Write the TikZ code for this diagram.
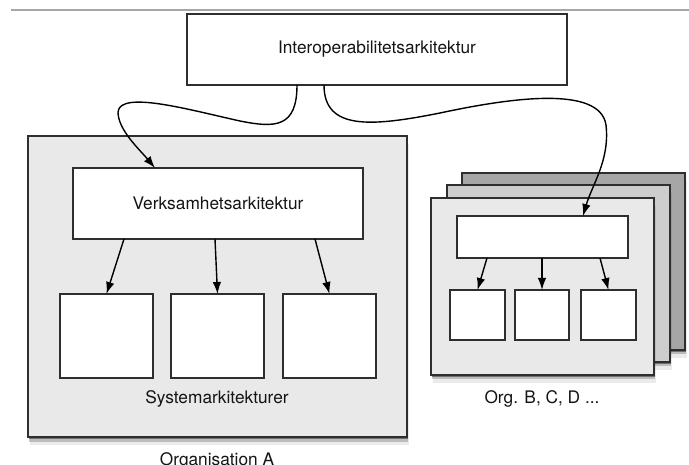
\documentclass[tikz,border=0pt]{standalone}
\usepackage{fontspec}
\setmainfont{TeX Gyre Heros}
\usetikzlibrary{arrows.meta,shadows}
\definecolor{edge}{HTML}{2E2E2E}
\definecolor{pagefront}{HTML}{E9E9E9}
\definecolor{pagemid}{HTML}{CDCDCD}
\definecolor{pageback}{HTML}{A6A6A6}
\definecolor{txt}{HTML}{141414}
\begin{document}
\begin{tikzpicture}[x=1pt,y=-1pt,
  box/.style={draw=edge,line width=1.7pt,fill=white,inner sep=0pt,outer sep=0pt,anchor=north west},
  softshadow/.style={
    drop shadow={shadow xshift=0.5pt,shadow yshift=-2pt,opacity=.4,fill=black},
    drop shadow={shadow xshift=1pt,shadow yshift=-4.5pt,opacity=.2,fill=black},
    drop shadow={shadow xshift=1.5pt,shadow yshift=-8pt,opacity=.08,fill=black}},
  page/.style={box,softshadow},
  lbl/.style={text=txt,font=\fontsize{17.3}{20}\selectfont},
  arr/.style={draw=black,line width=1.4pt,-{Latex[length=12pt,width=8.5pt]}}
]
\useasboundingbox (0,0) rectangle (689,465);
\draw[gray!70,line width=1.2pt] (11,10) -- (689,10);

\node[box,lbl,minimum width=380pt,minimum height=71pt] (inter) at (187,14) {Interoperabilitetsarkitektur};

% Organisation A
\node[page,fill=pagefront,minimum width=379pt,minimum height=301pt] (orgA) at (28,136) {};
\node[box,lbl,minimum width=290pt,minimum height=71pt] (verk) at (73,168) {Verksamhetsarkitektur};
\node[box,minimum width=93pt,minimum height=84pt] (s1) at (60,294) {};
\node[box,minimum width=93pt,minimum height=84pt] (s2) at (171,294) {};
\node[box,minimum width=93pt,minimum height=84pt] (s3) at (283,294) {};
\node[lbl,anchor=base] (syslbl) at (217,403) {Systemarkitekturer};
\node[lbl,anchor=base] (orgAlbl) at (217,465) {Organisation A};

% Org B, C, D stack
\node[page,fill=pageback,minimum width=223pt,minimum height=177pt] (pback) at (462,173) {};
\node[page,fill=pagemid,minimum width=223pt,minimum height=177pt] (pmid) at (447,185) {};
\node[page,fill=pagefront,minimum width=223pt,minimum height=177pt] (pfront) at (431,198) {};
\node[box,minimum width=171pt,minimum height=42pt] (ib) at (457,216) {};
\node[box,minimum width=55pt,minimum height=50pt] (b1) at (450,290) {};
\node[box,minimum width=54pt,minimum height=50pt] (b2) at (515,290) {};
\node[box,minimum width=55pt,minimum height=50pt] (b3) at (581,290) {};
\node[lbl,anchor=base] (orgBlbl) at (542,403) {Org. B, C, D ...};

% arrows inside Org A
\draw[arr] ([xshift=51pt]verk.south west) -- (s1.north);
\draw[arr] ([xshift=-3pt]verk.south) -- (s2.north);
\draw[arr] ([xshift=242pt]verk.south west) -- (s3.north);

% arrows inside Org B
\draw[arr] ([xshift=30pt]ib.south west) -- (b1.north);
\draw[arr] ([xshift=85pt]ib.south west) -- (b2.north);
\draw[arr] ([xshift=143pt]ib.south west) -- (b3.north);

% connectors from Interoperabilitetsarkitektur
\draw[arr] ([xshift=110pt]inter.south west) .. controls (297,128) and (275,128) .. (240,121)
  .. controls (190,110) and (120,90) .. (118,112)
  .. controls (118,130) and (140,150) .. ([xshift=82pt]verk.north west);
\draw[arr] ([xshift=137pt]inter.south west) .. controls (324,130) and (370,127) .. (440,113)
  .. controls (510,98) and (600,85) .. (606,125)
  .. controls (610,160) and (592,185) .. ([xshift=126pt]ib.north west);
\end{tikzpicture}
\end{document}
